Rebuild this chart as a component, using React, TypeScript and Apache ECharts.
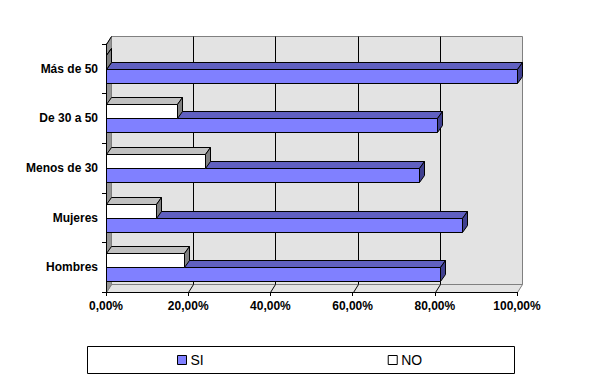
import React, { useEffect, useRef } from "react";
import * as echarts from "echarts";

const categories = ["Hombres", "Mujeres", "Menos de 30", "De 30 a 50", "Más de 50"];
const siValues = [81.2, 86.6, 76.2, 80.6, 100];
const noValues = [19.0, 12.2, 24.2, 17.2, 0];
const xTicks = [0, 20, 40, 60, 80, 100];

const DX = 5;
const DY = 8;

function makeBox(kind: "SI" | "NO") {
  const colors =
    kind === "SI"
      ? { front: "#8080ff", top: "#6060c0", side: "#404090" }
      : { front: "#ffffff", top: "#c0c0c0", side: "#808080" };
  return (params: any, api: any) => {
    const v = api.value(0);
    const c = api.value(1);
    const p0 = api.coord([0, c]);
    const p1 = api.coord([v, c]);
    const band = api.size([0, 1])[1];
    const h = Math.round(band * 0.28);
    const x0 = Math.round(p0[0]) + 0.5;
    const xv = Math.round(p1[0]) + 0.5;
    const yc = Math.round(p0[1]) + 0.5;
    const yTop = kind === "SI" ? yc : yc - h;
    const dx = 5;
    const dy = 7;
    const st = { stroke: "#000", lineWidth: 1 };
    return {
      type: "group",
      children: [
        {
          type: "polygon",
          shape: { points: [[x0, yTop], [xv, yTop], [xv + dx, yTop - dy], [x0 + dx, yTop - dy]] },
          style: { ...st, fill: colors.top },
        },
        {
          type: "polygon",
          shape: { points: [[xv, yTop], [xv + dx, yTop - dy], [xv + dx, yTop + h - dy], [xv, yTop + h]] },
          style: { ...st, fill: colors.side },
        },
        {
          type: "rect",
          shape: { x: x0, y: yTop, width: xv - x0, height: h },
          style: { ...st, fill: colors.front },
        },
      ],
    };
  };
}

function frameRender(params: any, api: any) {
  const n = categories.length;
  const band = api.size([0, 1])[1];
  const xL = Math.round(api.coord([0, 0])[0]) + 0.5;
  const xR = Math.round(api.coord([100, 0])[0]) + 0.5;
  const yB = Math.round(api.coord([0, 0])[1] + band / 2) + 0.5;
  const yT = Math.round(api.coord([0, n - 1])[1] - band / 2) + 0.5;
  const children: any[] = [
    {
      type: "rect",
      shape: { x: xL + DX, y: yT - DY, width: xR - xL, height: yB - yT },
      style: { fill: "#e3e3e3", stroke: "#808080", lineWidth: 1 },
    },
    {
      type: "polygon",
      shape: { points: [[xL, yB], [xL + DX, yB - DY], [xR + DX, yB - DY], [xR, yB]] },
      style: { fill: "#e3e3e3", stroke: "#808080", lineWidth: 1 },
    },
    {
      type: "polygon",
      shape: { points: [[xL, yT], [xL + DX, yT - DY], [xL + DX, yB - DY], [xL, yB]] },
      style: { fill: "#969696", stroke: "#808080", lineWidth: 1 },
    },
    {
      type: "line",
      shape: { x1: xL, y1: yT, x2: xL + DX, y2: yT - DY },
      style: { stroke: "#000", lineWidth: 1 },
    },
  ];
  xTicks.forEach((t) => {
    if (t === xTicks[0] || t === xTicks[xTicks.length - 1]) return;
    const x = Math.round(api.coord([t, 0])[0]) + 0.5;
    children.push({
      type: "line",
      shape: { x1: x + DX, y1: yT - DY, x2: x + DX, y2: yB - DY },
      style: { stroke: "#000", lineWidth: 1 },
    });
    children.push({
      type: "line",
      shape: { x1: x + DX, y1: yB - DY, x2: x, y2: yB },
      style: { stroke: "#000", lineWidth: 1 },
    });
  });
  return { type: "group", children };
}

export default function App() {
  const ref = useRef<HTMLDivElement>(null);
  useEffect(() => {
    document.body.style.margin = "0";
    const chart = echarts.init(ref.current!, null, { renderer: "svg" });
    const font = "'Liberation Sans', Arial, sans-serif";
    chart.setOption({
      animation: false,
      backgroundColor: "#ffffff",
      textStyle: { fontFamily: font },
      grid: { left: 106, right: 80, top: 44, bottom: 92, containLabel: false },
      xAxis: {
        type: "value",
        min: 0,
        max: 100,
        interval: 20,
        z: 10,
        axisLine: { show: true, lineStyle: { color: "#000", width: 1 } },
        axisTick: { show: true, length: 4, lineStyle: { color: "#000" } },
        splitLine: { show: false },
        axisLabel: {
          color: "#000",
          fontWeight: "bold",
          fontSize: 12,
          fontFamily: font,
          margin: 8,
          formatter: (v: number) => v.toFixed(2).replace(".", ",") + "%",
        },
      },
      yAxis: {
        type: "category",
        data: categories,
        z: 10,
        axisLine: { show: true, lineStyle: { color: "#000", width: 1 } },
        axisTick: { show: true, length: 4, lineStyle: { color: "#000" } },
        splitLine: { show: false },
        axisLabel: {
          color: "#000",
          fontWeight: "bold",
          fontSize: 12,
          fontFamily: font,
          margin: 8,
        },
      },
      legend: {
        left: 177,
        top: 353,
        itemGap: 184,
        itemWidth: 9,
        itemHeight: 9,
        icon: "rect",
        padding: 0,
        textStyle: { fontSize: 14, color: "#000", fontFamily: font, padding: [0, 0, 0, -1] },
        data: [
          { name: "SI", itemStyle: { color: "#8080ff", borderColor: "#000", borderWidth: 1 } },
          { name: "NO", itemStyle: { color: "#ffffff", borderColor: "#000", borderWidth: 1 } },
        ],
      },
      graphic: [
        {
          type: "rect",
          shape: { x: 87.5, y: 346.5, width: 427, height: 27 },
          style: { fill: "none", stroke: "#000", lineWidth: 1 },
          z: -1,
        },
      ],
      series: [
        {
          type: "custom",
          name: "frame",
          renderItem: frameRender,
          data: [[0, 0]],
          z: 1,
          silent: true,
          clip: false,
        },
        {
          type: "custom",
          name: "SI",
          renderItem: makeBox("SI"),
          data: siValues.map((v, i) => [v, i]),
          itemStyle: { color: "#8080ff" },
          encode: { x: 0, y: 1 },
          z: 2,
          clip: false,
        },
        {
          type: "custom",
          name: "NO",
          renderItem: makeBox("NO"),
          data: noValues.map((v, i) => [v, i]),
          itemStyle: { color: "#ffffff" },
          encode: { x: 0, y: 1 },
          z: 3,
          clip: false,
        },
      ],
    });
    return () => chart.dispose();
  }, []);
  return <div ref={ref} style={{ width: 597, height: 384 }} />;
}
